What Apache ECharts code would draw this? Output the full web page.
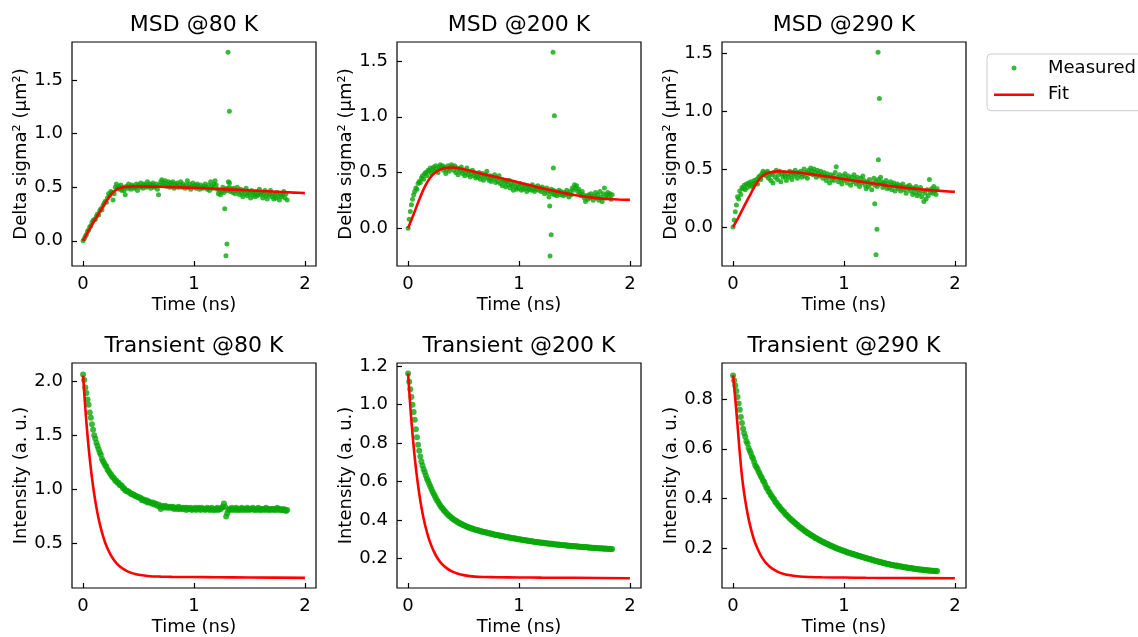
<!DOCTYPE html>
<html><head><meta charset="utf-8">
<script src="https://cdn.jsdelivr.net/npm/echarts@6/dist/echarts.min.js"></script>
<style>html,body{margin:0;padding:0;background:#fff}#c{width:1138px;height:637px}</style>
</head><body><div id="c"></div>
<script>
// ---------- DATA ----------
const TIME = [0,0.01,0.02,0.03,0.04,0.05,0.06,0.07,0.08,0.09,0.1,0.11,0.12,0.13,0.14,0.15,0.16,0.17,0.18,0.19,0.2,0.21,0.22,0.23,0.24,0.25,0.26,0.27,0.28,0.29,0.3,0.31,0.32,0.33,0.34,0.35,0.36,0.37,0.38,0.39,0.4,0.41,0.42,0.43,0.44,0.45,0.46,0.47,0.48,0.49,0.5,0.51,0.52,0.53,0.54,0.55,0.56,0.57,0.58,0.59,0.6,0.61,0.62,0.63,0.64,0.65,0.66,0.67,0.68,0.69,0.7,0.71,0.72,0.73,0.74,0.75,0.76,0.77,0.78,0.79,0.8,0.81,0.82,0.83,0.84,0.85,0.86,0.87,0.88,0.89,0.9,0.91,0.92,0.93,0.94,0.95,0.96,0.97,0.98,0.99,1,1.01,1.02,1.03,1.04,1.05,1.06,1.07,1.08,1.09,1.1,1.11,1.12,1.13,1.14,1.15,1.16,1.17,1.18,1.19,1.2,1.21,1.22,1.23,1.24,1.25,1.26,1.27,1.28,1.29,1.3,1.31,1.32,1.33,1.34,1.35,1.36,1.37,1.38,1.39,1.4,1.41,1.42,1.43,1.44,1.45,1.46,1.47,1.48,1.49,1.5,1.51,1.52,1.53,1.54,1.55,1.56,1.57,1.58,1.59,1.6,1.61,1.62,1.63,1.64,1.65,1.66,1.67,1.68,1.69,1.7,1.71,1.72,1.73,1.74,1.75,1.76,1.77,1.78,1.79,1.8,1.81,1.82,1.83,1.84];

const MSD80 = [
0.00,0.02,0.04,0.06,0.09,0.10,0.13,0.14,0.17,0.19,
0.20,0.20,0.23,0.25,0.24,0.28,0.30,0.29,0.33,0.35,
0.37,0.36,0.40,0.44,0.42,0.46,0.45,0.38,0.44,0.50,
0.53,0.49,0.51,0.48,0.52,0.47,0.50,0.47,0.43,0.51,
0.49,0.53,0.50,0.48,0.52,0.51,0.49,0.50,0.53,0.47,
0.52,0.50,0.54,0.51,0.49,0.53,0.52,0.50,0.55,0.51,
0.53,0.49,0.52,0.54,0.50,0.51,0.53,0.48,0.43,0.52,
0.55,0.57,0.52,0.54,0.56,0.51,0.53,0.55,0.50,0.54,
0.52,0.55,0.49,0.53,0.51,0.54,0.50,0.52,0.55,0.50,
0.53,0.51,0.49,0.52,0.56,0.50,0.53,0.48,0.51,0.54,
0.50,0.52,0.49,0.53,0.51,0.48,0.52,0.50,0.49,0.51,
0.53,0.50,0.48,0.52,0.47,0.55,0.51,0.49,0.53,0.56,
0.52,0.48,0.44,0.47,0.43,0.46,0.50,0.45,0.48,0.47,
0.49,0.47,0.50,0.46,0.48,0.45,0.49,0.44,0.47,0.50,
0.46,0.43,0.48,0.45,0.41,0.47,0.44,0.49,0.42,0.46,
0.44,0.40,0.47,0.43,0.45,0.41,0.46,0.42,0.44,0.48,
0.43,0.45,0.40,0.44,0.47,0.42,0.39,0.45,0.43,0.47,
0.41,0.44,0.39,0.43,0.40,0.45,0.42,0.38,0.44,0.41,
0.43,0.46,0.40,0.44,0.38];
const MSD80_OUT = [[1.307,1.76],[1.319,1.21],[1.31,0.55],[1.32,0.54],[1.277,0.30],[1.297,-0.03],[1.288,-0.14]];

const MSD200 = [
0.00,0.08,0.15,0.21,0.26,0.30,0.33,0.36,0.35,0.40,
0.42,0.41,0.45,0.47,0.44,0.49,0.50,0.47,0.52,0.51,
0.54,0.49,0.53,0.55,0.51,0.56,0.53,0.50,0.55,0.57,
0.54,0.56,0.52,0.55,0.49,0.53,0.56,0.51,0.54,0.57,
0.55,0.52,0.56,0.50,0.54,0.48,0.53,0.51,0.55,0.49,
0.52,0.47,0.50,0.54,0.48,0.51,0.46,0.49,0.52,0.47,
0.50,0.45,0.48,0.46,0.50,0.44,0.47,0.49,0.43,0.46,
0.48,0.51,0.45,0.43,0.47,0.42,0.46,0.44,0.48,0.41,
0.45,0.42,0.47,0.40,0.44,0.38,0.43,0.41,0.37,0.42,
0.39,0.43,0.36,0.40,0.38,0.34,0.41,0.37,0.35,0.39,
0.36,0.40,0.34,0.38,0.35,0.39,0.36,0.33,0.38,0.35,
0.37,0.34,0.39,0.35,0.33,0.37,0.35,0.38,0.34,0.36,
0.33,0.37,0.35,0.31,0.34,0.36,0.32,0.28,0.33,0.35,
0.31,0.34,0.30,0.33,0.29,0.32,0.34,0.30,0.33,0.31,
0.29,0.32,0.30,0.34,0.31,0.28,0.33,0.30,0.36,0.34,
0.39,0.36,0.38,0.33,0.35,0.31,0.29,0.33,0.30,0.27,
0.24,0.29,0.26,0.30,0.27,0.31,0.28,0.25,0.29,0.32,
0.27,0.30,0.25,0.33,0.28,0.24,0.31,0.36,0.27,0.30,
0.32,0.28,0.31,0.26,0.30];
const MSD200_OUT = [[1.307,1.58],[1.319,1.01],[1.31,0.54],[1.277,0.20],[1.29,-0.06],[1.28,-0.25]];

const MSD290 = [
0.00,0.06,0.13,0.19,0.26,0.24,0.31,0.28,0.34,0.33,
0.36,0.32,0.37,0.34,0.38,0.36,0.39,0.35,0.37,0.40,
0.38,0.41,0.37,0.43,0.44,0.41,0.46,0.48,0.45,0.47,
0.44,0.48,0.42,0.46,0.40,0.45,0.38,0.47,0.43,0.49,
0.41,0.45,0.48,0.39,0.46,0.43,0.47,0.44,0.40,0.46,
0.43,0.48,0.45,0.41,0.47,0.44,0.49,0.46,0.42,0.47,
0.45,0.48,0.43,0.46,0.50,0.44,0.47,0.42,0.49,0.46,
0.51,0.48,0.45,0.50,0.47,0.43,0.49,0.46,0.44,0.48,
0.45,0.42,0.47,0.44,0.40,0.46,0.43,0.38,0.45,0.41,
0.44,0.40,0.47,0.52,0.43,0.39,0.45,0.41,0.37,0.44,
0.40,0.46,0.42,0.38,0.44,0.41,0.36,0.43,0.39,0.45,
0.41,0.37,0.43,0.39,0.35,0.42,0.38,0.44,0.40,0.36,
0.33,0.39,0.35,0.41,0.37,0.32,0.38,0.42,0.36,0.39,
0.35,0.41,0.37,0.43,0.39,0.34,0.38,0.36,0.40,0.33,
0.37,0.34,0.39,0.32,0.36,0.38,0.31,0.35,0.37,0.33,
0.36,0.31,0.35,0.37,0.32,0.34,0.29,0.35,0.33,0.36,
0.31,0.34,0.28,0.33,0.30,0.35,0.27,0.32,0.29,0.34,
0.26,0.31,0.22,0.29,0.24,0.32,0.27,0.41,0.30,0.33,
0.29,0.35,0.31,0.28,0.33];
const MSD290_OUT = [[1.307,1.51],[1.319,1.11],[1.31,0.58],[1.277,0.20],[1.297,-0.02],[1.288,-0.24]];

const TR80 = [
2.06,2.01,1.94,1.89,1.83,1.78,1.71,1.66,1.60,1.55,
1.50,1.47,1.43,1.40,1.37,1.34,1.32,1.28,1.26,1.24,
1.22,1.21,1.18,1.17,1.15,1.14,1.12,1.11,1.10,1.08,
1.08,1.06,1.06,1.04,1.04,1.03,1.01,1.01,0.99,0.99,
0.98,0.98,0.97,0.96,0.96,0.95,0.95,0.94,0.94,0.93,
0.93,0.92,0.92,0.90,0.91,0.90,0.89,0.90,0.88,0.89,
0.88,0.88,0.87,0.88,0.86,0.87,0.86,0.85,0.86,0.84,
0.82,0.85,0.84,0.83,0.85,0.84,0.83,0.84,0.83,0.84,
0.83,0.84,0.82,0.83,0.83,0.82,0.84,0.82,0.83,0.82,
0.83,0.82,0.83,0.81,0.83,0.82,0.82,0.83,0.81,0.82,
0.82,0.83,0.81,0.82,0.83,0.82,0.81,0.83,0.82,0.82,
0.81,0.82,0.83,0.82,0.81,0.82,0.83,0.81,0.82,0.81,
0.82,0.83,0.81,0.82,0.82,0.83,0.84,0.87,0.84,0.75,
0.78,0.81,0.82,0.81,0.83,0.82,0.81,0.82,0.83,0.81,
0.82,0.81,0.82,0.83,0.81,0.82,0.82,0.81,0.83,0.82,
0.81,0.82,0.82,0.83,0.81,0.82,0.81,0.82,0.83,0.81,
0.82,0.81,0.82,0.82,0.81,0.83,0.82,0.81,0.82,0.81,
0.82,0.82,0.81,0.82,0.81,0.83,0.82,0.81,0.82,0.81,
0.81,0.82,0.81,0.80,0.81];

const TR200 = [
1.162,1.120,1.080,1.040,1.000,0.962,0.921,0.872,0.830,0.792,
0.760,0.731,0.705,0.684,0.664,0.648,0.631,0.615,0.603,0.589,
0.575,0.561,0.548,0.537,0.526,0.514,0.503,0.495,0.484,0.476,
0.466,0.461,0.452,0.446,0.440,0.432,0.429,0.421,0.418,0.411,
0.408,0.402,0.400,0.395,0.393,0.387,0.386,0.381,0.380,0.375,
0.374,0.370,0.369,0.365,0.364,0.360,0.360,0.356,0.356,0.352,
0.351,0.349,0.348,0.345,0.345,0.342,0.342,0.339,0.339,0.336,
0.336,0.333,0.333,0.330,0.331,0.327,0.328,0.325,0.325,0.322,
0.322,0.320,0.320,0.317,0.318,0.315,0.315,0.313,0.313,0.310,
0.311,0.308,0.309,0.306,0.306,0.304,0.305,0.302,0.302,0.300,
0.300,0.298,0.298,0.296,0.296,0.294,0.295,0.292,0.293,0.290,
0.291,0.289,0.289,0.287,0.287,0.285,0.286,0.284,0.284,0.282,
0.283,0.281,0.281,0.279,0.280,0.278,0.278,0.276,0.277,0.275,
0.276,0.274,0.274,0.273,0.273,0.271,0.272,0.270,0.270,0.269,
0.269,0.268,0.268,0.266,0.267,0.265,0.266,0.264,0.265,0.263,
0.264,0.262,0.263,0.261,0.262,0.260,0.261,0.259,0.260,0.258,
0.259,0.258,0.258,0.256,0.257,0.256,0.256,0.254,0.255,0.254,
0.254,0.253,0.253,0.252,0.253,0.251,0.252,0.250,0.251,0.250,
0.250,0.249,0.250,0.248,0.249];

const TR290 = [
0.895,0.875,0.855,0.832,0.808,0.782,0.757,0.728,0.704,0.681,
0.662,0.648,0.630,0.621,0.603,0.592,0.582,0.568,0.561,0.547,
0.534,0.527,0.519,0.508,0.500,0.489,0.482,0.471,0.466,0.455,
0.443,0.440,0.428,0.424,0.414,0.409,0.401,0.397,0.386,0.383,
0.376,0.370,0.366,0.358,0.355,0.349,0.346,0.338,0.335,0.330,
0.326,0.320,0.318,0.311,0.309,0.304,0.301,0.296,0.294,0.288,
0.285,0.282,0.278,0.276,0.271,0.268,0.266,0.261,0.260,0.256,
0.253,0.251,0.248,0.246,0.241,0.240,0.238,0.234,0.233,0.229,
0.228,0.225,0.224,0.220,0.219,0.217,0.215,0.212,0.211,0.208,
0.207,0.204,0.203,0.200,0.199,0.197,0.196,0.193,0.193,0.190,
0.189,0.187,0.186,0.183,0.183,0.181,0.180,0.178,0.177,0.175,
0.175,0.172,0.172,0.169,0.169,0.167,0.166,0.164,0.164,0.161,
0.161,0.159,0.158,0.157,0.155,0.155,0.152,0.152,0.150,0.149,
0.148,0.146,0.146,0.144,0.144,0.141,0.141,0.139,0.139,0.137,
0.137,0.135,0.135,0.133,0.133,0.131,0.131,0.129,0.130,0.127,
0.127,0.126,0.126,0.124,0.124,0.122,0.123,0.121,0.121,0.120,
0.120,0.118,0.119,0.117,0.117,0.116,0.116,0.114,0.115,0.113,
0.114,0.112,0.113,0.111,0.112,0.110,0.111,0.109,0.110,0.109,
0.109,0.108,0.109,0.107,0.108];

const FIT_T_MSD = [0,0.05,0.1,0.15,0.2,0.25,0.3,0.35,0.4,0.45,0.5,0.6,0.7,0.8,0.9,1.0,1.1,1.2,1.3,1.4,1.5,1.6,1.7,1.8,1.9,2.0];
const FIT_MSD80  = [0,0.095,0.185,0.27,0.355,0.43,0.478,0.498,0.505,0.507,0.507,0.506,0.504,0.501,0.498,0.495,0.49,0.485,0.48,0.475,0.47,0.465,0.46,0.455,0.45,0.445];
const FIT_MSD200 = [0,0.125,0.255,0.37,0.455,0.505,0.53,0.542,0.545,0.54,0.53,0.505,0.48,0.458,0.435,0.41,0.385,0.36,0.338,0.317,0.298,0.282,0.27,0.262,0.257,0.254];
const FIT_MSD290 = [0,0.085,0.18,0.27,0.36,0.425,0.46,0.475,0.48,0.479,0.476,0.468,0.456,0.442,0.428,0.413,0.398,0.384,0.37,0.356,0.344,0.333,0.324,0.316,0.309,0.303];

const FIT_T_TR = [0,0.02,0.04,0.06,0.08,0.1,0.12,0.14,0.16,0.18,0.2,0.23,0.26,0.3,0.35,0.4,0.45,0.5,0.6,0.7,0.8,1.0,1.2,1.5,2.0];
const FIT_TR80  = [2.05,1.749,1.496,1.284,1.107,0.958,0.834,0.729,0.642,0.568,0.506,0.434,0.376,0.32,0.274,0.244,0.225,0.212,0.199,0.195,0.193,0.191,0.189,0.187,0.183];
const FIT_TR200 = [1.163,0.991,0.846,0.725,0.624,0.539,0.468,0.408,0.358,0.316,0.281,0.239,0.206,0.174,0.148,0.131,0.12,0.113,0.105,0.103,0.102,0.101,0.1,0.099,0.097];
const FIT_TR290 = [0.895,0.80,0.695,0.585,0.49,0.42,0.365,0.318,0.28,0.247,0.22,0.189,0.163,0.139,0.119,0.106,0.097,0.092,0.086,0.084,0.083,0.082,0.081,0.08,0.079];

const TITLES = ['MSD @80 K','MSD @200 K','MSD @290 K','Transient @80 K','Transient @200 K','Transient @290 K'];
const X_NAME = 'Time (ns)';
const Y_NAMES = ['Delta sigma² (μm²)','Delta sigma² (μm²)','Delta sigma² (μm²)','Intensity (a. u.)','Intensity (a. u.)','Intensity (a. u.)'];
const X_TICKS = [0,1,2];
const Y_TICKS = [[0,0.5,1,1.5],[0,0.5,1,1.5],[0,0.5,1,1.5],[0.5,1,1.5,2],[0.2,0.4,0.6,0.8,1,1.2],[0.2,0.4,0.6,0.8]];
const SERIES_NAMES = ['Measured','Fit'];

// ---------- CHART ----------
const FONT = 'DejaVu Sans';
const GREEN = '#0aa80a';
const RED = '#ff0000';
const zip = (xs, ys) => ys.map((y, i) => [xs[i], y]);

const panels = [
  {meas: zip(TIME, MSD80).concat(MSD80_OUT),  fit: zip(FIT_T_MSD, FIT_MSD80),  yr: [-0.235, 1.855], ms: 5},
  {meas: zip(TIME, MSD200).concat(MSD200_OUT), fit: zip(FIT_T_MSD, FIT_MSD200), yr: [-0.34, 1.672], ms: 5},
  {meas: zip(TIME, MSD290).concat(MSD290_OUT), fit: zip(FIT_T_MSD, FIT_MSD290), yr: [-0.338, 1.598], ms: 5},
  {meas: zip(TIME, TR80),  fit: zip(FIT_T_TR, FIT_TR80),  yr: [0.09, 2.166], ms: 6},
  {meas: zip(TIME, TR200), fit: zip(FIT_T_TR, FIT_TR200), yr: [0.046, 1.217], ms: 6},
  {meas: zip(TIME, TR290), fit: zip(FIT_T_TR, FIT_TR290), yr: [0.04, 0.945], ms: 6}
];
const LEFTS = [72, 397, 722];
const TOPS = [42, 363];
const W = 244, HS = [224, 225];

const grid = [], xAxis = [], yAxis = [], series = [], graphic = [];
panels.forEach((p, i) => {
  const col = i % 3, row = Math.floor(i / 3);
  grid.push({left: LEFTS[col], top: TOPS[row], width: W, height: HS[row], show: true,
    borderColor: '#000', borderWidth: 1.2, backgroundColor: 'transparent', containLabel: false, outerBoundsMode: 'none'});
  xAxis.push({type: 'value', gridIndex: i, min: -0.1, max: 2.1,
    splitLine: {show: false}, axisLine: {show: false, onZero: false},
    axisTick: {show: true, inside: true, length: 5, lineStyle: {color: '#000', width: 1.2}, customValues: X_TICKS},
    axisLabel: {customValues: X_TICKS, formatter: v => String(v), fontSize: 18, fontFamily: FONT, color: '#000', margin: 9},
    name: X_NAME, nameLocation: 'middle', nameGap: 30, nameTextStyle: {fontSize: 18, fontFamily: FONT, color: '#000'}});
  yAxis.push({type: 'value', gridIndex: i, min: p.yr[0], max: p.yr[1],
    splitLine: {show: false}, axisLine: {show: false, onZero: false},
    axisTick: {show: true, inside: true, length: 5, lineStyle: {color: '#000', width: 1.2}, customValues: Y_TICKS[i]},
    axisLabel: {customValues: Y_TICKS[i], formatter: v => v.toFixed(1), fontSize: 18, fontFamily: FONT, color: '#000', margin: 9},
    name: Y_NAMES[i], nameLocation: 'middle', nameRotate: 90, nameGap: 42, nameTextStyle: {fontSize: 18, fontFamily: FONT, color: '#000'}});
  series.push({name: SERIES_NAMES[0], type: 'scatter', xAxisIndex: i, yAxisIndex: i, data: p.meas,
    symbol: 'circle', symbolSize: p.ms, itemStyle: {color: GREEN}, silent: true});
  series.push({name: SERIES_NAMES[1], type: 'line', xAxisIndex: i, yAxisIndex: i, data: p.fit,
    symbol: 'none', showSymbol: false, smooth: 0.3, lineStyle: {color: RED, width: 2.6}, itemStyle: {color: RED}, silent: true});
  graphic.push({type: 'text', x: LEFTS[col] + W / 2, y: row === 0 ? 25 : 346,
    style: {text: TITLES[i], fontSize: 22, fontFamily: FONT, fill: '#000', align: 'center', verticalAlign: 'middle'}});
});

const chart = echarts.init(document.getElementById('c'), null, {renderer: 'canvas'});
chart.setOption({
  animation: false,
  backgroundColor: '#fff',
  grid, xAxis, yAxis, series, graphic,
  legend: {
    orient: 'vertical', left: 987, top: 54, itemWidth: 40, itemHeight: 5, itemGap: 6.7,
    padding: [4, 10, 6, 7], backgroundColor: '#fff', borderColor: '#ccc', borderWidth: 1, borderRadius: 4,
    selectedMode: false,
    textStyle: {fontSize: 18, fontFamily: FONT, color: '#000', lineHeight: 20, padding: [0, 0, 0, 9]},
    data: [
      {name: SERIES_NAMES[0], icon: 'circle'},
      {name: SERIES_NAMES[1], icon: 'path://M0,0L40,0L40,2.6L0,2.6Z', itemStyle: {color: RED}}
    ]
  }
});
</script>
</body></html>
